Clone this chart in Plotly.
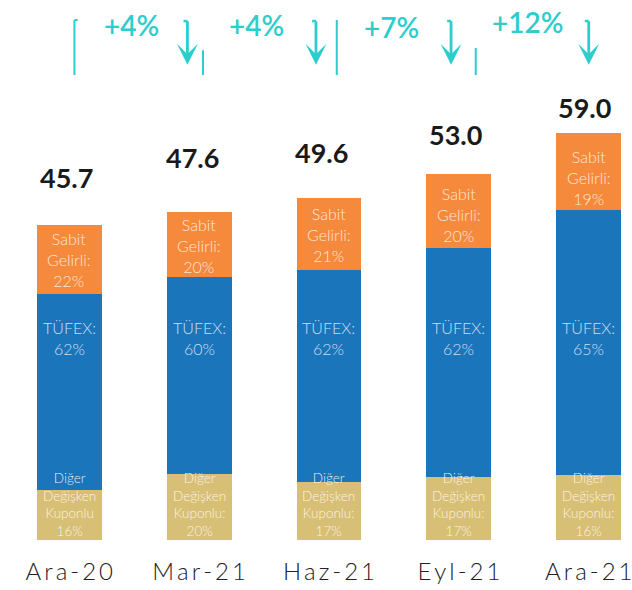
import plotly.graph_objects as go

# Portfolio size by period, with the share of each instrument group (%)
periods = ["Ara-20", "Mar-21", "Haz-21", "Eyl-21", "Ara-21"]
totals = [45.7, 47.6, 49.6, 53.0, 59.0]
pct_fixed = [22, 20, 21, 20, 19]        # Sabit Gelirli
pct_tufex = [62, 60, 62, 62, 65]        # TÜFEX
pct_floating = [16, 20, 17, 17, 16]     # Diğer Değişken Kuponlu
floating_colon = ["", ":", ":", ":", ":"]
growth = ["+4%", "+4%", "+7%", "+12%"]

ORANGE = "#F68A3C"
BLUE = "#1B75BB"
BEIGE = "#D8BF76"
TEAL = "#2DCDCD"
FONT = "Lato"

# split each total into its segments (shares normalised so the stack equals the total)
floating_v, tufex_v, fixed_v = [], [], []
for t, a, b, c in zip(totals, pct_floating, pct_tufex, pct_fixed):
    s = a + b + c
    floating_v.append(t * a / s)
    tufex_v.append(t * b / s)
    fixed_v.append(t * c / s)

fig = go.Figure()
for vals, col in [(floating_v, BEIGE), (tufex_v, BLUE), (fixed_v, ORANGE)]:
    fig.add_trace(go.Bar(x=periods, y=vals, marker=dict(color=col, line=dict(width=0)),
                         width=0.5, hoverinfo="skip"))

ann = []
# total labels above the bars
total_xshift = [-3, -7, -7, -3, -4]
total_yshift = [29, 36, 27, 21, 7]
label_shift = [0, -1, -1, -3, -6]
for i, p in enumerate(periods):
    ann.append(dict(x=p, y=totals[i], text=f"{totals[i]:.1f}", showarrow=False,
                    yanchor="bottom", xshift=total_xshift[i], yshift=total_yshift[i],
                    font=dict(family=FONT, size=27, color="#1a1a1a", weight=700)))
    # Sabit Gelirli label centred in the orange segment
    ann.append(dict(x=p, y=floating_v[i] + tufex_v[i] + fixed_v[i] / 2,
                    text=f"Sabit<br>Gelirli:<br>{pct_fixed[i]}%", showarrow=False,
                    yanchor="middle", yshift=label_shift[i],
                    font=dict(family=FONT, size=16, color="rgba(255,240,228,0.92)", weight=300)))
    # TÜFEX label near the top of the blue segment
    ann.append(dict(x=p, y=0.374, yref="paper", yanchor="middle",
                    text=f"TÜFEX:<br>{pct_tufex[i]}%", showarrow=False,
                    font=dict(family=FONT, size=16, color="rgba(225,235,250,0.9)", weight=300)))
    # floating-coupon label at the base
    ann.append(dict(x=p, y=0, yanchor="bottom",
                    text=f"Diğer<br>Değişken<br>Kuponlu{floating_colon[i]}<br>{pct_floating[i]}%",
                    showarrow=False, yshift=-1,
                    font=dict(family=FONT, size=13.5, color="rgba(255,250,240,0.92)", weight=300)))

# growth brackets between consecutive periods
arrow_off = [-0.09, -0.10, -0.06, 0.0]      # arrow x relative to the later bar
left_off = [0.04, 0.03, 0.06, 0.13]         # left tick x relative to the earlier bar
left_top = [0.963, 0.907, 0.963, 0.911]     # top of the left tick (paper)
growth_x = [0.48, 0.44, 0.48, 0.53]          # text x between bars (fraction of the gap)
growth_y = [0.954, 0.954, 0.950, 0.960]
shapes = []
for i, g in enumerate(growth):
    xl = i + left_off[i]
    xa = i + 1 + arrow_off[i]
    shapes.append(dict(type="line", xref="x", yref="paper", x0=xl, x1=xl,
                       y0=0.861, y1=left_top[i], line=dict(color=TEAL, width=2)))
    if i == 0:
        shapes.append(dict(type="line", xref="x", yref="paper", x0=xl, x1=xl + 0.025,
                           y0=left_top[i], y1=left_top[i], line=dict(color=TEAL, width=2)))
    # small hook at the top of the arrow
    shapes.append(dict(type="line", xref="x", yref="paper", x0=xa - 0.03, x1=xa,
                       y0=0.961, y1=0.961, line=dict(color=TEAL, width=2.5)))
    ann.append(dict(x=xa, y=0.880, xref="x", yref="paper", ax=0, ay=-45,
                    text="", showarrow=True, arrowhead=3, arrowsize=1.25,
                    arrowwidth=2.8, arrowcolor=TEAL, standoff=0))
    ann.append(dict(x=i + growth_x[i], y=growth_y[i], xref="x", yref="paper",
                    yanchor="middle", text=g, showarrow=False,
                    font=dict(family=FONT, size=28, color=TEAL, weight=600)))

fig.update_layout(
    width=632, height=590,
    margin=dict(l=0, r=0, t=0, b=50),
    barmode="stack",
    showlegend=False,
    plot_bgcolor="white", paper_bgcolor="white",
    annotations=ann, shapes=shapes,
    xaxis=dict(type="category", range=[-0.533, 4.31], showgrid=False, zeroline=False,
               showline=False, ticks="", tickvals=periods,
               ticktext=["\u2009".join(list(p)) for p in periods],
               ticklabelstandoff=15,
               tickfont=dict(family=FONT, size=24, color="#222222", weight=300)),
    yaxis=dict(visible=False, range=[0, 540 / 6.9], fixedrange=True),
)

fig.write_html("out.html")
